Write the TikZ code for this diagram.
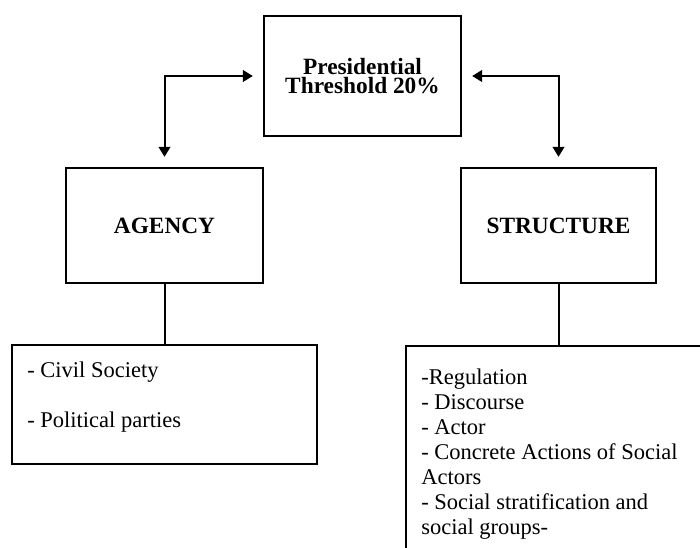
\documentclass[tikz,border=0pt]{standalone}
\usepackage{fontspec}
\setmainfont{Liberation Serif}
\usetikzlibrary{arrows.meta}

\begin{document}
\begin{tikzpicture}[x=0.6pt,y=-0.6pt,
  box/.style={draw,line width=1.4pt,inner sep=0pt},
  title/.style={font=\fontsize{14}{11.6}\selectfont\bfseries,align=center,execute at begin node={\lineskiplimit=-20pt\relax}},
  list/.style={font=\fontsize{13.5}{15}\selectfont,align=left,inner sep=0pt,anchor=north west},
  link/.style={line width=1.2pt},
  twoway/.style={link,{Triangle[length=6pt,width=7pt]}-{Triangle[length=6pt,width=7pt]},shorten <=6pt,shorten >=6pt}]
\useasboundingbox (0,0) rectangle (700,548);
\clip (0,0) rectangle (700,548);
\node[box,title,minimum width=118.2pt,minimum height=72pt] (threshold) at (362.5,76) {Presidential\\Threshold 20\%};
\node[box,title,minimum width=118.2pt,minimum height=69pt] (agency) at (164.5,225.5) {AGENCY};
\node[box,title,minimum width=117pt,minimum height=69pt] (structure) at (558.5,225.5) {STRUCTURE};
\node[box,minimum width=183pt,minimum height=71.4pt] (civil) at (164.5,404.5) {};
\node[box,minimum width=183pt,minimum height=152.4pt] (rules) at (558.5,473) {};
\node[list] (civiltext) at (27,362) {- Civil Society\\[15pt]- Political parties};
\node[list] (rulestext) at (421,369) {-Regulation\\- Discourse\\- Actor\\- Concrete Actions of Social\\Actors\\- Social stratification and\\social groups-};
\draw[twoway] (threshold.west) -| (agency.north);
\draw[twoway] (threshold.east) -| (structure.north);
\draw[link] (agency.south) -- (civil.north);
\draw[link] (structure.south) -- (rules.north);
\end{tikzpicture}
\end{document}
